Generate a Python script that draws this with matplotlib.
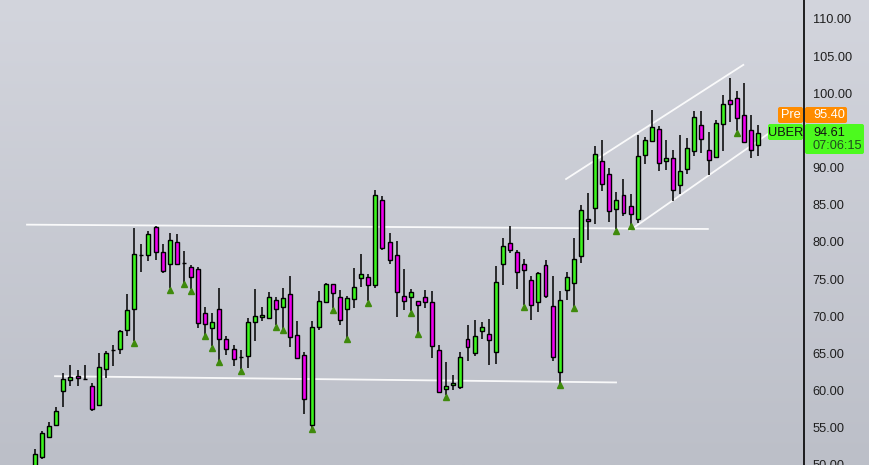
import numpy as np
import matplotlib
matplotlib.use("Agg")
import matplotlib.pyplot as plt
from matplotlib.colors import LinearSegmentedColormap
from matplotlib.patches import FancyBboxPatch
from matplotlib.transforms import IdentityTransform
from matplotlib.ticker import FixedLocator, StrMethodFormatter

plt.rcParams['font.family'] = ['Liberation Sans', 'DejaVu Sans']

# OHLC, oldest first
opens = [49.6, 51.1, 53.8, 55.4, 60.0, 61.45, 62.0, 61.6, 60.6, 58.0,
         62.9, 65.5, 65.6, 68.2, 71.0, 78.2, 78.2, 82.0, 78.65, 77.0,
         80.0, 77.1, 76.6, 76.4, 70.45, 68.4, 71.0, 67.0, 65.6, 64.5,
         64.6, 69.2, 69.9, 69.8, 72.2, 71.3, 73.0, 67.5, 64.8, 55.4,
         68.6, 71.9, 74.35, 72.6, 71.0, 72.3, 75.15, 75.3, 74.2, 85.6,
         80.0, 78.2, 72.7, 72.6, 72.1, 72.6, 71.9, 65.5, 60.2, 60.8,
         60.5, 67.0, 65.1, 68.0, 67.6, 65.2, 77.0, 79.9, 78.65, 77.0,
         74.9, 71.9, 76.9, 71.4, 62.5, 73.5, 74.5, 78.1, 83.1, 84.6,
         90.9, 89.1, 84.4, 86.3, 84.8, 83.1, 91.7, 93.6, 95.2, 90.9,
         91.3, 87.65, 89.8, 92.2, 95.7, 92.35, 91.4, 95.85, 99.1, 99.3,
         97.1, 95.0, 93.0]
highs = [52.1, 54.5, 55.8, 57.8, 62.3, 63.5, 62.7, 63.5, 61.0, 65.0,
         65.35, 66.1, 68.2, 73.0, 81.9, 79.7, 81.5, 82.2, 79.7, 81.2,
         81.1, 78.8, 76.9, 76.6, 71.2, 70.4, 73.8, 67.4, 66.1, 65.4,
         69.7, 73.6, 71.2, 73.3, 72.6, 73.8, 75.4, 69.4, 65.2, 69.4,
         73.45, 74.5, 74.4, 73.5, 72.7, 76.5, 78.4, 75.7, 87.0, 86.2,
         81.2, 80.1, 76.4, 73.7, 72.1, 73.5, 73.4, 66.15, 63.9, 62.1,
         65.2, 68.8, 69.5, 69.2, 69.65, 76.8, 80.5, 82.1, 78.9, 77.7,
         75.4, 76.0, 77.6, 75.4, 73.4, 76.0, 80.5, 85.0, 86.6, 92.9,
         93.7, 89.9, 86.7, 88.5, 86.4, 94.4, 94.1, 97.7, 95.6, 93.7,
         92.35, 94.4, 94.0, 97.6, 97.6, 94.8, 96.4, 99.7, 102.0, 100.3,
         101.4, 97.1, 95.7]
lows = [49.3, 50.8, 53.7, 55.3, 57.8, 60.6, 60.6, 61.4, 57.2, 57.9,
        61.7, 63.3, 64.9, 67.3, 66.6, 75.9, 77.4, 77.5, 75.8, 73.8,
        77.0, 74.5, 73.6, 68.4, 67.5, 66.0, 64.0, 64.8, 63.3, 62.9,
        63.0, 66.6, 69.3, 69.8, 68.8, 68.3, 65.8, 64.3, 56.9, 55.0,
        68.1, 71.9, 71.1, 68.8, 67.1, 71.1, 73.9, 72.0, 73.8, 78.9,
        77.0, 69.9, 70.85, 70.7, 67.8, 71.1, 64.4, 59.8, 59.4, 60.1,
        60.2, 64.0, 64.6, 66.9, 63.5, 63.6, 74.2, 78.5, 73.7, 71.5,
        69.5, 70.6, 72.5, 64.0, 60.9, 72.2, 71.3, 77.2, 80.3, 82.4,
        86.85, 82.7, 81.7, 83.5, 82.3, 82.55, 90.5, 93.5, 89.5, 89.7,
        85.5, 86.4, 89.1, 91.55, 91.95, 89.0, 91.4, 92.2, 96.1, 94.9,
        93.3, 91.3, 91.55]
closes = [51.5, 54.3, 55.2, 57.3, 61.6, 61.85, 61.7, 61.6, 57.55, 63.2,
          65.1, 65.5, 68.0, 70.85, 78.4, 78.2, 81.1, 78.65, 76.1, 80.3,
          77.0, 77.1, 75.3, 69.1, 69.0, 69.2, 67.0, 65.6, 64.3, 64.5,
          69.2, 70.05, 70.2, 72.6, 71.0, 72.5, 67.2, 64.4, 58.9, 68.6,
          72.1, 74.35, 73.1, 69.5, 72.5, 73.95, 75.7, 74.2, 86.3, 79.2,
          77.6, 73.3, 72.1, 73.3, 71.5, 71.9, 66.0, 59.8, 60.6, 61.05,
          64.5, 65.9, 67.4, 68.6, 66.8, 74.6, 79.45, 78.9, 76.0, 76.2,
          71.5, 75.8, 72.7, 64.5, 72.2, 75.3, 77.7, 84.3, 82.8, 91.8,
          87.8, 84.2, 85.6, 83.9, 83.75, 91.55, 93.7, 95.4, 90.6, 91.3,
          87.0, 89.5, 92.6, 96.8, 93.8, 91.0, 96.0, 98.5, 98.5, 96.7,
          93.4, 92.35, 94.61]

# bars flagged with a small green triangle under the low (1-based)
flagged = [15, 20, 22, 23, 25, 26, 27, 30, 35, 36, 40, 43, 45, 48, 54, 55,
           59, 70, 75, 77, 83, 85, 100]

# drawn trendlines: (bar index, price) pairs
trendlines = [
    [(-1.13, 82.32), (94.9, 81.74)],
    [(2.82, 61.93), (81.95, 61.09)],
    [(74.9, 88.46), (99.9, 103.82)],
    [(83.9, 81.55), (103.4, 94.54)],
]

# price scale labels shown (95 is hidden behind the price tags)
price_ticks = [50, 55, 60, 65, 70, 75, 80, 85, 90, 100, 105, 110]

symbol = "UBER"
last_price = "94.61"
countdown = "07:06:15"
pre_price = "95.40"

W, H = 870, 465
fig = plt.figure(figsize=(W / 100, H / 100), dpi=100)

# background gradient
bg = fig.add_axes([0, 0, 1, 1], zorder=-5)
cmap = LinearSegmentedColormap.from_list("bg", ["#d3d5dd", "#bcbfc8"])
bg.imshow(np.linspace(0, 1, 256).reshape(-1, 1), aspect="auto", cmap=cmap,
          extent=[0, 1, 0, 1])
bg.axis("off")

ax = fig.add_axes([0, 0, 804 / W, 1])
ax.patch.set_alpha(0)
x = np.arange(len(opens))
o = np.array(opens)
c = np.array(closes)
colors = np.where(c > o, "#3cf51e", np.where(c < o, "#f000f0", "black"))

ax.vlines(x, lows, highs, color="black", lw=1.1, zorder=2)
ax.bar(x, np.abs(c - o), bottom=np.minimum(o, c), width=0.56, color=colors,
       edgecolor="black", linewidth=1.0, zorder=3)

fi = np.array(flagged) - 1
ax.plot(fi, np.array(lows)[fi] - 0.22, linestyle="none", marker="^",
        ms=4.5, color="#3f8a0c", zorder=4)

for (x0, y0), (x1, y1) in trendlines:
    ax.plot([x0, x1], [y0, y1], color="white", lw=1.3, alpha=0.9, zorder=1)

ax.set_xlim(-4.94, -4.94 + 804 / 7.09)
ax.set_ylim(49.98, 112.55)
ax.set_xticks([])
ax.yaxis.tick_right()
ax.yaxis.set_major_locator(FixedLocator(price_ticks))
ax.yaxis.set_major_formatter(StrMethodFormatter("{x:.2f}"))
ax.tick_params(axis="y", length=0, pad=6.3, labelsize=9.2, labelcolor="#1e1e1e")
for s in ["top", "left", "bottom"]:
    ax.spines[s].set_visible(False)
ax.spines["right"].set_color("black")
ax.spines["right"].set_linewidth(1.2)
ax.spines["right"].set_zorder(6)


def px_box(x0, y0, x1, y1, color):
    r = FancyBboxPatch((x0, H - y1), x1 - x0, y1 - y0,
                       boxstyle="round,pad=0,rounding_size=2",
                       transform=IdentityTransform(), facecolor=color,
                       edgecolor="none", clip_on=False, zorder=4)
    ax.add_patch(r)


def px_text(xp, yp, s, color, ha="left"):
    ax.text(xp / W, 1 - yp / H, s, transform=fig.transFigure, color=color,
            ha=ha, va="center", fontsize=9.2, clip_on=False, zorder=5)


# price labels on the scale
px_box(778, 107, 803, 123, "#ff8c00")
px_box(805, 107, 847, 123, "#ff8c00")
px_text(790.5, 115.5, "Pre", "white", ha="center")
px_text(813, 115.5, pre_price, "white")

px_box(768, 124, 803, 140, "#4cfa1e")
px_box(805, 124, 864, 154, "#4cfa1e")
px_text(785.5, 132.5, symbol, "#111111", ha="center")
px_text(813, 132.5, last_price, "#111111")
px_text(813, 146, countdown, "#1f4a1f")

fig.savefig("out.png", dpi=100)
